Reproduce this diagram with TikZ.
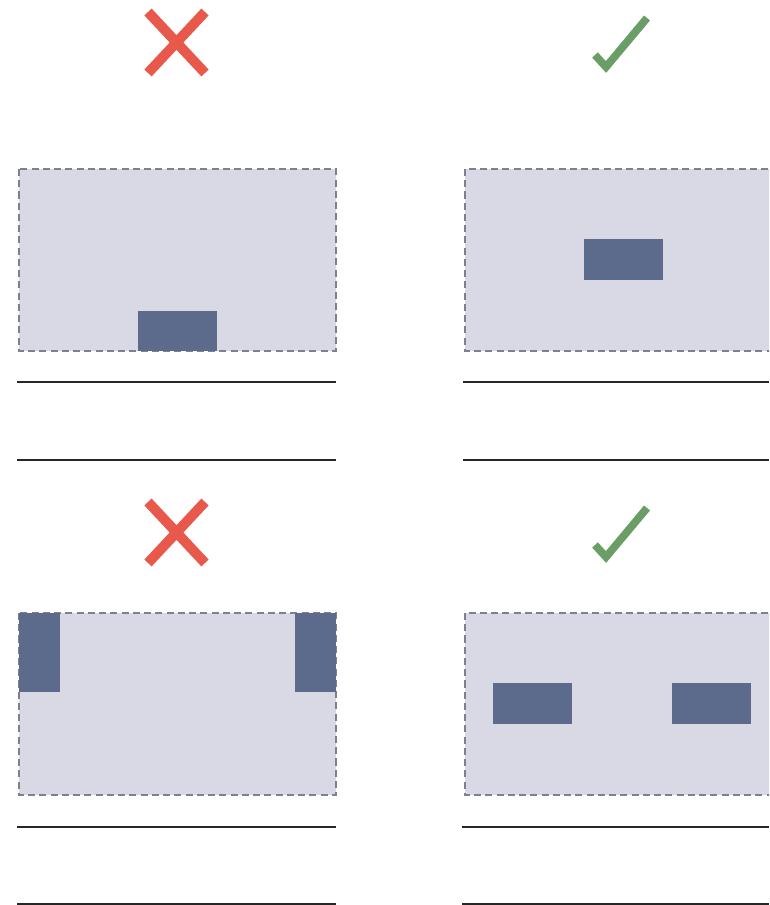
\documentclass[tikz,border=0pt]{standalone}
\usepackage{tikz}

\definecolor{panelfill}{HTML}{D9D8E5}
\definecolor{panelline}{HTML}{7F7F92}
\definecolor{blockfill}{HTML}{5C6A8C}
\definecolor{wrongred}{HTML}{E8584B}
\definecolor{rightgreen}{HTML}{6A9E66}

\tikzset{
  panel/.style={fill=panelfill, draw=panelline, line width=1.3pt, dash pattern=on 4pt off 2.4pt},
  block/.style={fill=blockfill},
  wrongmark/.style={draw=wrongred, line width=0.2cm},
  rightmark/.style={draw=rightgreen, line width=0.155cm},
  rule/.style={draw=black!85, line width=0.7pt}
}

\begin{document}
\begin{tikzpicture}[x=0.02cm, y=-0.02cm]
            \useasboundingbox (0,0) rectangle (769,905);
            \clip (0,0) rectangle (769,905);

            % Marcas de arriba
            \draw[wrongmark] (148,12) -- (205,73) (205,12) -- (148,73);
            \draw[rightmark] (595,55) -- (606,67) -- (647,18);

            % Caja de arriba a la izquierda
            \filldraw[panel] (19,169) rectangle (336,351);
            \fill[block] (138,311) rectangle (217,351);

            % Caja de arriba a la derecha
            \filldraw[panel] (465,169) rectangle (800,351);
            \fill[block] (584,239) rectangle (663,280);

            % Reglas de arriba
            \draw[rule] (17,382) -- (336,382) (17,460) -- (336,460);
            \draw[rule] (463,382) -- (769,382) (463,460) -- (769,460);

            % Marcas de abajo
            \draw[wrongmark] (148,502) -- (205,563) (205,502) -- (148,563);
            \draw[rightmark] (595,545) -- (606,557) -- (647,508);

            % Caja de abajo a la izquierda
            \filldraw[panel] (19,613) rectangle (336,795);
            \fill[block] (19,613) rectangle (60,692);
            \fill[block] (295,613) rectangle (336,692);

            % Caja de abajo a la derecha
            \filldraw[panel] (465,613) rectangle (800,795);
            \fill[block] (493,683) rectangle (572,724);
            \fill[block] (672,683) rectangle (751,724);

            % Reglas de abajo
            \draw[rule] (17,827) -- (336,827) (17,904) -- (336,904);
            \draw[rule] (462,827) -- (769,827) (462,904) -- (769,904);
        \end{tikzpicture}
\end{document}
